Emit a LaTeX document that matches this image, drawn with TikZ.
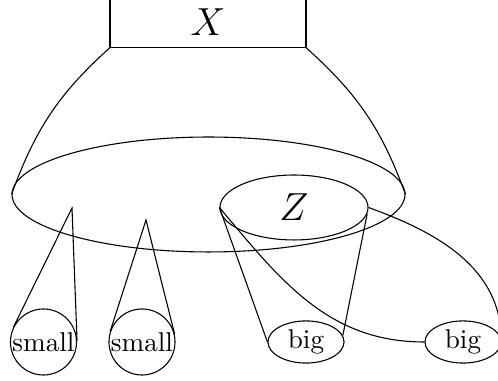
\documentclass[tikz,border=0pt]{standalone}
\usetikzlibrary{shapes.geometric,calc}
\tikzset{
  headbox/.style  ={draw, rectangle, minimum width=72.1pt, minimum height=18.4pt,
                    inner sep=0pt, font=\Large},
  bowl/.style     ={draw, ellipse, minimum width=144.6pt, minimum height=42.3pt, inner sep=0pt},
  zone/.style     ={draw, ellipse, minimum width=54.5pt, minimum height=23.9pt,
                    inner sep=0pt, font=\Large},
  % child nodes hanging below
  smallball/.style={draw, circle, inner sep=0pt, minimum size=24.3pt},
  bigball/.style  ={draw, ellipse, inner sep=0pt, minimum width=28pt, minimum height=15.5pt},
}
\begin{document}
\begin{tikzpicture}[x=0.368pt, y=-0.368pt]
  \useasboundingbox (0,0) rectangle (498,381);
  \node[headbox] (X) at (208,22.5) {$X$};
  \node[bowl] (B) at (208.5,194.5) {};
  \node[zone] (Z) at (294,207.5) {$Z$};
  \node[smallball] (s1) at (43.5,342) {small};
  \node[smallball] (s2) at (142,342) {small};
  \node[bigball] (b1) at (306,342) {big};
  \node[bigball] (b2) at (463,342) {big};
  \coordinate (a1) at (72,208);
  \coordinate (a2) at (146,220);
  \draw (X.south west) to[out=-138, in=70] (B.west);
  \draw (X.south east) to[out=-42, in=110] (B.east);
  \draw (tangent cs:node=s1,point={(a1)},solution=1) -- (a1)
        -- (tangent cs:node=s1,point={(a1)},solution=2);
  \draw (tangent cs:node=s2,point={(a2)},solution=1) -- (a2)
        -- (tangent cs:node=s2,point={(a2)},solution=2);
  \draw (Z.west) -- (b1.west);
  \draw (Z.-5) -- (b1.10);
  \draw (Z.west) to[out=-50, in=180] (b2.west);
  \draw (Z.east) to[out=-20, in=90] (b2.east);
\end{tikzpicture}
\end{document}
